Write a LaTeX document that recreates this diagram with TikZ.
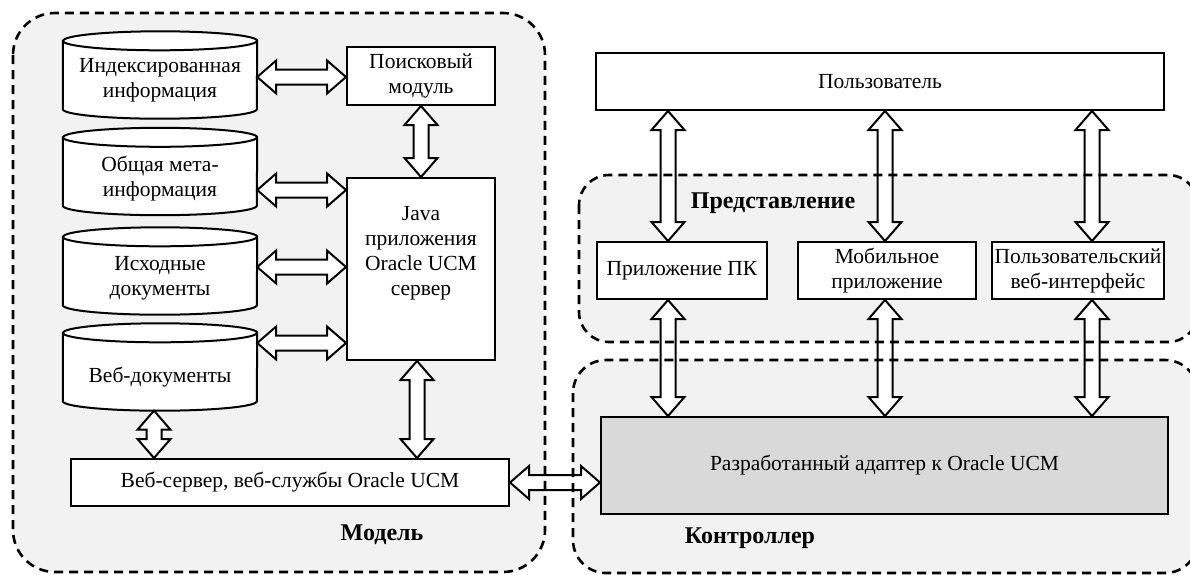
\documentclass[tikz,border=0pt]{standalone}
\usepackage{fontspec}
\setmainfont{Liberation Serif}
\usetikzlibrary{calc}
\definecolor{regfill}{HTML}{F2F2F2}
\definecolor{adfill}{HTML}{D9D9D9}
\tikzset{
  txtfont/.style={font=\fontsize{21.5}{25}\selectfont},
  box/.style={draw, line width=2pt, fill=white, inner sep=0pt, align=center, txtfont},
  cylbox/.style={inner sep=0pt, minimum width=194pt, minimum height=87pt},
  cylst/.style={draw, line width=2pt, fill=white},
  lbl/.style={inner sep=0pt, align=center, txtfont},
  blk/.style={draw, line width=2pt, fill=white, line join=miter},
  regionfill/.style={fill=regfill},
  regionline/.style={draw, line width=2.6pt, dash pattern=on 9pt off 6pt},
  title/.style={inner sep=0pt, font=\fontsize{24}{28}\selectfont\bfseries}
}
% horizontal double block arrow: y from #1, left x from #2, right x from #3
\newcommand\harr[3]{\path[blk] let \p1=(#2), \p2=(#3), \p3=(#1) in
  (\x1,\y3) -- (\x1+19pt,\y3+16.5pt) -- (\x1+19pt,\y3+7.5pt) -- (\x2-19pt,\y3+7.5pt)
  -- (\x2-19pt,\y3+16.5pt) -- (\x2,\y3) -- (\x2-19pt,\y3-16.5pt) -- (\x2-19pt,\y3-7.5pt)
  -- (\x1+19pt,\y3-7.5pt) -- (\x1+19pt,\y3-16.5pt) -- cycle;}
% vertical double block arrow: x from #1, top y from #2, bottom y from #3
\newcommand\varr[3]{\path[blk] let \p1=(#2), \p2=(#3), \p3=(#1) in
  (\x3,\y1) -- (\x3+16.5pt,\y1-19pt) -- (\x3+7.5pt,\y1-19pt) -- (\x3+7.5pt,\y2+19pt)
  -- (\x3+16.5pt,\y2+19pt) -- (\x3,\y2) -- (\x3-16.5pt,\y2+19pt) -- (\x3-7.5pt,\y2+19pt)
  -- (\x3-7.5pt,\y1-19pt) -- (\x3-16.5pt,\y1-19pt) -- cycle;}
\newcommand\cylout[1]{%
  \draw[cylst] ($(#1.north west)+(0,9.5)$) -- ($(#1.south west)+(0,-9.5)$)
    arc[start angle=180,end angle=360,x radius=97pt,y radius=9.5pt]
    -- ($(#1.north east)+(0,9.5)$)
    arc[start angle=0,end angle=180,x radius=97pt,y radius=9.5pt] -- cycle;
  \draw[line width=2pt] ($(#1.north west)+(0,9.5)$)
    arc[start angle=180,end angle=360,x radius=97pt,y radius=9.5pt];}
\begin{document}
\begin{tikzpicture}[x=1pt,y=-1pt]
\useasboundingbox (0,0) rectangle (1190,574);
% region fills
\path[regionfill, rounded corners=42pt] (13,13) rectangle (545,572);
\path[regionfill, rounded corners=30pt] (579,175) rectangle (1198,342);
\path[regionfill, rounded corners=33pt] (573,360) rectangle (1198,573);

% cylinders
\node[cylbox] (c1) at (160,75) {};
\node[cylbox] (c2) at (160,171.5) {};
\node[cylbox] (c3) at (160,271) {};
\node[cylbox] (c4) at (160,367) {};
\cylout{c1}\cylout{c2}\cylout{c3}\cylout{c4}
\node[lbl] (c1t) at ($(c1)+(0,5)$) {Индексированная\\информация};
\node[lbl] (c2t) at ($(c2)+(0,7.5)$) {Общая мета-\\информация};
\node[lbl] (c3t) at ($(c3)+(0,7)$) {Исходные\\документы};
\node[lbl] (c4t) at ($(c4)+(0,10)$) {Веб-документы};

% boxes
\node[box, minimum width=148pt, minimum height=58pt] (search) at (421,76) {Поисковый\\модуль};
\node[box, minimum width=148pt, minimum height=182pt] (java) at (421,269) {};
\node[lbl] (javat) at ($(java)+(0,-16)$) {Java\\приложения\\Oracle UCM\\сервер};
\node[box, minimum width=438pt, minimum height=47pt] (web) at (290,482.5) {Веб-сервер, веб-службы Oracle UCM};
\node[box, minimum width=568pt, minimum height=57pt] (user) at (880,81.5) {Пользователь};
\node[box, minimum width=170pt, minimum height=57pt] (pc) at (682,270.5) {Приложение ПК};
\node[box, minimum width=178pt, minimum height=57pt] (mob) at (887,270.5) {Мобильное\\приложение};
\node[box, minimum width=172pt, minimum height=57pt] (wi) at (1078,270.5) {Пользовательский\\веб-интерфейс};
\node[box, fill=adfill, minimum width=567pt, minimum height=97pt] (ad) at (884.5,465.5) {Разработанный адаптер к Oracle UCM};

% arrows
\harr{$(c1.east)+(0,2)$}{c1.east}{search.west}
\harr{$(c2.east)+(0,18.5)$}{c2.east}{java.west}
\harr{$(c3.east)+(0,-4)$}{c3.east}{java.west}
\harr{$(c4.east)+(0,-24)$}{c4.east}{java.west}
\varr{search.south}{search.south}{java.north}
\varr{$(java.south)+(-4,0)$}{java.south}{web.north}
\varr{$(c4.south)+(-6,0)$}{c4.south}{web.north}
\harr{web.east}{web.east}{ad.west}
\varr{$(pc.north)+(-14,0)$}{user.south}{pc.north}
\varr{$(mob.north)+(-2,0)$}{user.south}{mob.north}
\varr{$(wi.north)+(14,0)$}{user.south}{wi.north}
\varr{$(pc.south)+(-14,0)$}{pc.south}{ad.north}
\varr{$(mob.south)+(-2,0)$}{mob.south}{ad.north}
\varr{$(wi.south)+(14,0)$}{wi.south}{ad.north}

% region borders
\path[regionline, rounded corners=42pt] (13,13) rectangle (545,572);
\path[regionline, rounded corners=30pt] (579,175) rectangle (1198,342);
\path[regionline, rounded corners=33pt] (573,360) rectangle (1198,573);

% region titles
\node[title] (tmodel) at (382,535) {Модель};
\node[title] (tview) at (773,203) {Представление};
\node[title] (tctrl) at (750,538) {Контроллер};
\end{tikzpicture}
\end{document}
